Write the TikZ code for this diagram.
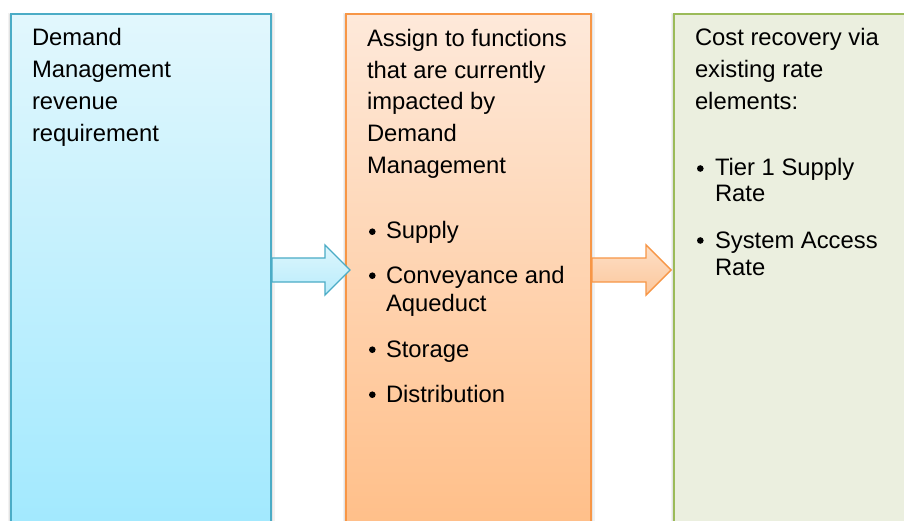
\documentclass[tikz,border=0pt]{standalone}
\usepackage{fontspec}
\setmainfont{Liberation Sans}
\usetikzlibrary{calc}
\definecolor{bluebd}{HTML}{4BACC6}
\definecolor{orangebd}{HTML}{F79646}
\definecolor{greenbd}{HTML}{9BBB59}
\definecolor{bluetop}{HTML}{E2F7FD}
\definecolor{bluebot}{HTML}{A2E9FE}
\definecolor{orangetop}{HTML}{FEE9DA}
\definecolor{orangebot}{HTML}{FFBF89}
\definecolor{greenfill}{HTML}{EBEFDF}
\definecolor{barrtop}{HTML}{DDF6FD}
\definecolor{barrbot}{HTML}{B9ECFB}
\definecolor{oarrtop}{HTML}{FDDFC6}
\definecolor{oarrbot}{HTML}{FCC79C}
\tikzset{
  box/.style={rectangle, inner sep=0pt, outer sep=0pt, minimum height=512pt, line width=1.4pt},
  shadowouter/.style={rectangle, inner sep=0pt, outer sep=0pt, minimum height=512pt, draw=black!5, line width=7pt},
  shadowinner/.style={rectangle, inner sep=0pt, outer sep=0pt, minimum height=512pt, draw=black!11, line width=4pt},
  txt/.style={inner sep=0pt, outer sep=0pt, anchor=base west, font=\fontsize{23.8}{28}\selectfont, text=black},
  bul/.style={circle, fill=black, inner sep=0pt, outer sep=0pt, minimum size=6.6pt},
  arrowshape/.style={line width=1.4pt, line join=miter},
}
\newcommand\tline[4]{\node[txt] (#1) at (#2,#3) {#4};}
\begin{document}
\begin{tikzpicture}[x=1pt,y=-1pt]
\useasboundingbox (0,0) rectangle (904,521);
\fill[white] (0,0) rectangle (904,521);
\clip (0,0) rectangle (904,521);
% shadows
\node[shadowouter, minimum width=260pt] (s1o) at (141,273) {};
\node[shadowinner, minimum width=260pt] (s1) at (141,272) {};
\node[shadowouter, minimum width=245pt] (s2o) at (468.5,273) {};
\node[shadowinner, minimum width=245pt] (s2) at (468.5,272) {};
\node[shadowouter, minimum width=256pt] (s3o) at (802,273) {};
\node[shadowinner, minimum width=256pt] (s3) at (802,272) {};
% boxes
\node[box, minimum width=260pt, draw=bluebd, top color=bluetop, bottom color=bluebot] (blue) at (141,270) {};
\node[box, minimum width=245pt, draw=orangebd, top color=orangetop, bottom color=orangebot] (orange) at (468.5,270) {};
\node[box, minimum width=256pt, draw=greenbd, fill=greenfill] (green) at (802,270) {};
% arrows
\draw[arrowshape, draw=bluebd, top color=barrtop, bottom color=barrbot]
  ($(blue.east)+(1,-12)$) -- ++(53,0) -- ++(0,-13) -- ($(orange.west)+(4,0)$)
  -- ++(-25,25) -- ++(0,-13) -- ++(-53,0) -- cycle;
\draw[arrowshape, draw=orangebd, top color=oarrtop, bottom color=oarrbot]
  ($(orange.east)+(1,-12)$) -- ++(54,0) -- ++(0,-13) -- ($(green.west)+(-3,0)$)
  -- ++(-25,25) -- ++(0,-13) -- ++(-54,0) -- cycle;
% blue text
\tline{b1}{32}{46}{Demand}
\tline{b2}{32}{78}{Management}
\tline{b3}{32}{110}{revenue}
\tline{b4}{32}{142}{requirement}
% orange text
\tline{o1}{367}{47}{Assign to functions}
\tline{o2}{367}{79}{that are currently}
\tline{o3}{367}{110}{impacted by}
\tline{o4}{367}{142}{Demand}
\tline{o5}{367}{174}{Management}
\node[bul] (ob1) at (372.3,231.7) {};
\tline{ot1}{386}{239}{Supply}
\node[bul] (ob2) at (372.3,275.7) {};
\tline{ot2}{386}{283}{Conveyance and}
\tline{ot3}{386}{311}{Aqueduct}
\node[bul] (ob3) at (372.3,349.7) {};
\tline{ot4}{386}{357}{Storage}
\node[bul] (ob4) at (372.3,394.7) {};
\tline{ot5}{386}{402}{Distribution}
% green text
\tline{g1}{695}{46}{Cost recovery via}
\tline{g2}{695}{78}{existing rate}
\tline{g3}{695}{110}{elements:}
\node[bul] (gb1) at (700.3,168.5) {};
\tline{gt1}{715}{176}{Tier 1 Supply}
\tline{gt2}{715}{202}{Rate}
\node[bul] (gb2) at (700.3,240.5) {};
\tline{gt3}{715}{248}{System Access}
\tline{gt4}{715}{275}{Rate}
\end{tikzpicture}
\end{document}
